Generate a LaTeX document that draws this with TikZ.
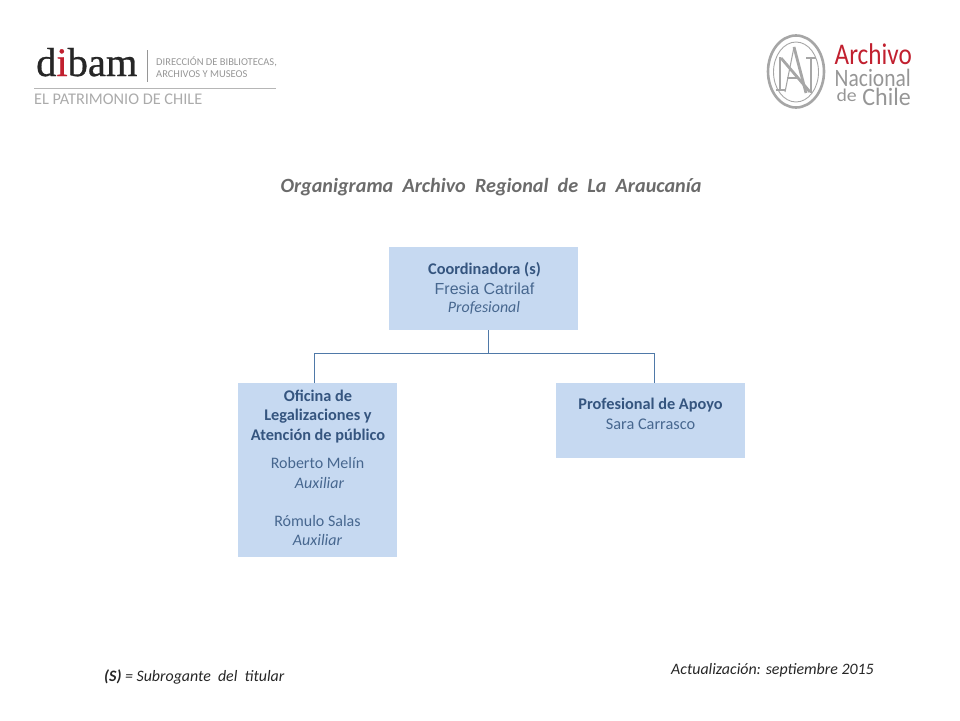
\documentclass[tikz,border=0pt]{standalone}
\usepackage{fontspec}
\setmainfont{Carlito}
\newfontfamily\arialfont{Liberation Sans}
\newfontfamily\logofont[FakeBold=0.7]{Liberation Serif}
\usetikzlibrary{positioning,calc}
\definecolor{boxfill}{HTML}{C6D9F1}
\definecolor{boxtext}{HTML}{35557F}
\definecolor{boxsoft}{HTML}{47678F}
\definecolor{boxline}{HTML}{4F79A8}
\definecolor{logogray}{HTML}{969696}
\definecolor{logored}{HTML}{C1202F}
\definecolor{titlegray}{HTML}{6B6B6B}
\tikzset{
    orgbox/.style={fill=boxfill,align=center,inner sep=0pt,anchor=north west},
    boxlabel/.style={text=boxsoft,inner sep=0pt,align=center,font=\fontsize{16}{16}\selectfont},
    boxhead/.style={text=boxtext,inner sep=0pt,align=center,font=\fontsize{16.3}{19.3}\selectfont\bfseries},
    link/.style={draw=boxline,line width=0.9pt},
    note/.style={text=black!85,font=\fontsize{15.9}{18}\selectfont\itshape,inner sep=0pt,anchor=west},
    logotext/.style={text=logogray,inner sep=0pt,anchor=west},
    logoword/.style={inner sep=0pt,anchor=base east,text=logogray},
    monothick/.style={draw=logogray!85,line width=2.8pt},
    monothin/.style={draw=logogray!85,line width=1.1pt}
}
\begin{document}
\begin{tikzpicture}[x=1pt,y=-1pt]
    \useasboundingbox (0,0) rectangle (960,720);
    % logo left
    \node[inner sep=0pt,anchor=base west,text=black!85,font=\logofont\fontsize{40.5}{40}\selectfont] (dibam) at (36,76) {d{\color{logored}i}bam};
    \draw[logogray,line width=0.5pt] (147.5,50) -- (147.5,82);
    \node[logotext,font=\fontsize{10.5}{12}\selectfont,align=left] (dibam_sub) at (156,67.5) {DIRECCIÓN DE BIBLIOTECAS,\\ARCHIVOS Y MUSEOS};
    \draw[logogray!70,line width=0.8pt] (34,88) -- (276,88);
    \node[logotext,font=\fontsize{16.3}{16}\selectfont,text=logogray!80] (patrimonio) at (34,99) {EL PATRIMONIO DE CHILE};
    % logo right
    \draw[logogray!85,line width=2.6pt] (796,71.5) ellipse (28 and 36);
    \draw[logogray!85,line width=0.9pt] (796,72) ellipse (22.5 and 30);
    \draw[monothin] (785,92) -- (794,47);
    \draw[monothick] (794,47) -- (806,93);
    \draw[monothin] (787,78) -- (799,78);
    \draw[monothin] (780,57) -- (780,90);
    \draw[monothick] (781,58) -- (810,92);
    \draw[monothin] (811,58) -- (811,93);
    \draw[monothin] (776,90) -- (785,90);
    \draw[monothin] (806,58) -- (816,58);
    \node[logoword,text=logored,font=\fontsize{30}{30}\selectfont] (archivo) at (912,64.5) {\scalebox{.84}[1]{Archivo}};
    \node[logoword,font=\fontsize{25}{25}\selectfont] (nacional) at (911,86.5) {\scalebox{.86}[1]{Nacional}};
    \node[logoword,font=\fontsize{25}{25}\selectfont] (chile) at (911,105) {\scalebox{.96}[1]{Chile}};
    \node[logoword,font=\fontsize{18}{18}\selectfont] (de) at (857,101) {\scalebox{1.1}[1]{de}};
    % title
    \node[inner sep=0pt,text=titlegray,font=\fontsize{20.2}{22}\selectfont\bfseries\itshape] (title) at (491,187.5) {Organigrama\ \ Archivo\ \ Regional\ \ de\ \ La\ \ Araucanía};
    % boxes
    \node[orgbox,minimum width=189pt,minimum height=83pt] (coord) at (389,247) {};
    \node[orgbox,minimum width=159pt,minimum height=174pt] (oficina) at (238,383) {};
    \node[orgbox,minimum width=189pt,minimum height=75pt] (apoyo) at (556,383) {};
    % box texts
    \node[boxhead] (coord_a) at (484.5,269.5) {Coordinadora (s)};
    \node[boxlabel,font=\arialfont\fontsize{16}{16}\selectfont] (coord_b) at (484.5,288.5) {Fresia Catrilaf};
    \node[boxlabel,font=\fontsize{15.9}{16}\selectfont\itshape] (coord_c) at (484,307.5) {Profesional};
    \node[boxhead] (oficina_a) at (318,416.5) {Oficina de\\Legalizaciones y\\Atención de público};
    \node[boxlabel] (roberto) at (317.5,463) {Roberto Melín};
    \node[boxlabel,font=\fontsize{16}{16}\selectfont\itshape] (aux_a) at (319.5,483) {Auxiliar};
    \node[boxlabel] (romulo) at (317.5,521) {Rómulo Salas};
    \node[boxlabel,font=\fontsize{16}{16}\selectfont\itshape] (aux_b) at (317.5,540) {Auxiliar};
    \node[boxhead] (apoyo_a) at (650.5,405.5) {Profesional de Apoyo};
    \node[boxlabel,font=\fontsize{16.3}{16}\selectfont] (apoyo_b) at (650.5,424) {Sara Carrasco};
    % connectors
    \coordinate (bus) at (488.5,353);
    \coordinate (bus_l) at (314.5,353);
    \coordinate (bus_r) at (654.5,353);
    \draw[link] (coord.south -| bus) -- (bus);
    \draw[link] (oficina.north -| bus_l) -- (bus_l) -- (bus_r) -- (apoyo.north -| bus_r);
    % notes
    \node[note] (subrogante) at (104,677) {\textbf{(S)} = Subrogante\ \ del\ \ titular};
    \node[note] (fecha) at (671,670) {Actualización: septiembre 2015};
\end{tikzpicture}
\end{document}
